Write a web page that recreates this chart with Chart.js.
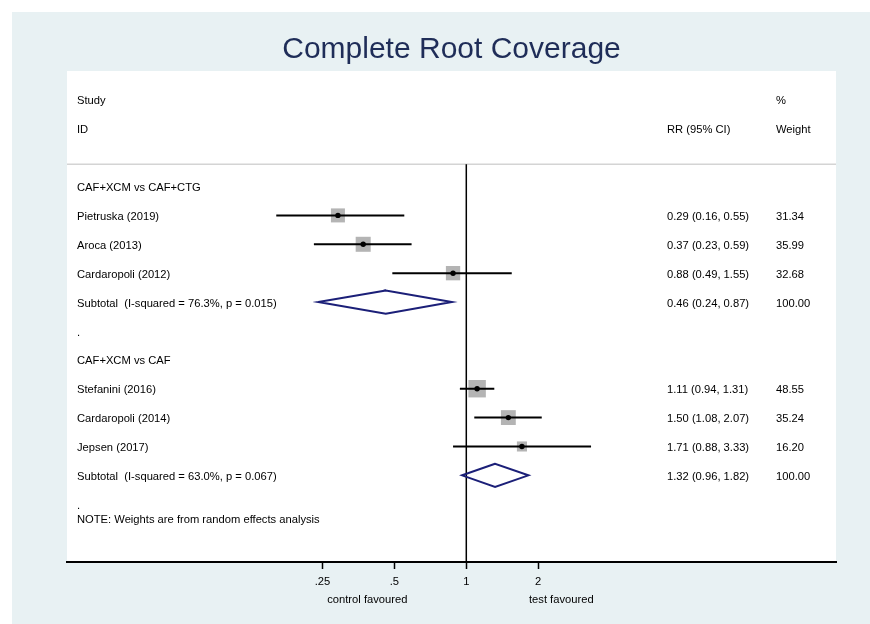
<!DOCTYPE html>
<html lang="en">
<head>
    <meta charset="UTF-8">
    <title>Complete Root Coverage</title>
    <!-- Chart.js -->
    <script src="https://cdn.jsdelivr.net/npm/chart.js@4.4.0/dist/chart.umd.min.js"></script>
    <style>
        html, body {
            margin: 0;
            padding: 0;
            background: #ffffff;
        }
        canvas {
            display: block;
        }
    </style>
</head>
<body>
    <canvas id="forestChart" width="870" height="624"></canvas>

    <script>
        // Data
        const groupLabels = ["CAF+XCM vs CAF+CTG", "CAF+XCM vs CAF"];
        const studyNames = ["Pietruska (2019)", "Aroca (2013)", "Cardaropoli (2012)",
                            "Stefanini (2016)", "Cardaropoli (2014)", "Jepsen (2017)"];
        const studyGroup = [0, 0, 0, 1, 1, 1];
        const studyRR = [0.29, 0.37, 0.88, 1.11, 1.50, 1.71];
        const studyLow = [0.16, 0.23, 0.49, 0.94, 1.08, 0.88];
        const studyHigh = [0.55, 0.59, 1.55, 1.31, 2.07, 3.33];
        const studyWeight = [31.34, 35.99, 32.68, 48.55, 35.24, 16.20];
        const subtotalRR = [0.46, 1.32];
        const subtotalLow = [0.24, 0.96];
        const subtotalHigh = [0.87, 1.82];
        const subtotalHet = ["I-squared = 76.3%, p = 0.015", "I-squared = 63.0%, p = 0.067"];
        const tickValues = [0.25, 0.5, 1, 2];
        const tickLabels = [".25", ".5", "1", "2"];

        const FONT = '"Liberation Sans", Arial, Helvetica, sans-serif';
        Chart.defaults.font.family = FONT;

        // row layout: group header, its studies, subtotal, spacer row
        const groupRow = [], studyRow = [], subtotalRow = [], spacerRow = [];
        let r = 0;
        groupLabels.forEach((g, gi) => {
            groupRow.push(r++);
            studyNames.forEach((n, i) => {
                if (studyGroup[i] === gi) studyRow[i] = r++;
            });
            subtotalRow.push(r++);
            spacerRow.push(r++);
        });
        const noteRow = spacerRow[spacerRow.length - 1] + 0.5;
        const headerRowTop = -3, headerRowBottom = -2, dividerRow = -0.77;
        const diamondHalf = 0.4;

        const datasets = [];

        // weight boxes (square side grows with sqrt of weight)
        datasets.push({
            data: studyRR.map((v, i) => ({ x: v, y: studyRow[i] })),
            pointStyle: "rect",
            pointRadius: studyWeight.map(w => 1.77 * Math.sqrt(w)),
            pointBackgroundColor: "#b4b4b4",
            pointBorderWidth: 0,
            order: 3
        });

        // confidence interval lines
        studyRR.forEach((v, i) => {
            datasets.push({
                data: [{ x: studyLow[i], y: studyRow[i] }, { x: studyHigh[i], y: studyRow[i] }],
                showLine: true,
                borderColor: "#000000",
                borderWidth: 2,
                pointRadius: 0,
                order: 2
            });
        });

        // point estimates
        datasets.push({
            data: studyRR.map((v, i) => ({ x: v, y: studyRow[i] })),
            pointStyle: "circle",
            pointRadius: 2.7,
            pointBackgroundColor: "#000000",
            pointBorderWidth: 0,
            order: 1
        });

        // subtotal diamonds
        subtotalRR.forEach((v, g) => {
            const row = subtotalRow[g];
            datasets.push({
                data: [
                    { x: subtotalLow[g], y: row },
                    { x: v, y: row - diamondHalf },
                    { x: subtotalHigh[g], y: row },
                    { x: v, y: row + diamondHalf },
                    { x: subtotalLow[g], y: row },
                    { x: v, y: row - diamondHalf }
                ],
                showLine: true,
                borderColor: "#1b1f78",
                borderWidth: 2,
                borderJoinStyle: "miter",
                pointRadius: 0,
                order: 2
            });
        });

        const forestDecor = {
            id: "forestDecor",
            beforeDraw(chart) {
                const { ctx, chartArea: a } = chart;
                ctx.save();
                ctx.fillStyle = "#ffffff";
                ctx.fillRect(0, 0, chart.width, chart.height);
                ctx.fillStyle = "#e8f1f3";
                ctx.fillRect(12, 12, chart.width - 12, chart.height - 12);
                ctx.fillStyle = "#ffffff";
                ctx.fillRect(a.left, a.top, a.right - a.left, a.bottom - a.top);
                ctx.restore();
            },
            beforeDatasetsDraw(chart) {
                const { ctx, chartArea: a, scales: { x, y } } = chart;
                const yDiv = y.getPixelForValue(dividerRow);
                ctx.save();
                ctx.strokeStyle = "#d4d4d4";
                ctx.lineWidth = 1.5;
                ctx.beginPath();
                ctx.moveTo(a.left, yDiv);
                ctx.lineTo(a.right, yDiv);
                ctx.stroke();
                // line of no effect
                const x1 = x.getPixelForValue(1);
                ctx.strokeStyle = "#000000";
                ctx.lineWidth = 1.5;
                ctx.beginPath();
                ctx.moveTo(x1, yDiv);
                ctx.lineTo(x1, a.bottom);
                ctx.stroke();
                ctx.restore();
            },
            afterDraw(chart) {
                const { ctx, chartArea: a, scales: { x, y } } = chart;
                const colStudy = a.left + 10, colRR = 667, colW = 776;
                ctx.save();
                ctx.fillStyle = "#000000";
                ctx.font = "11.2px " + FONT;
                ctx.textBaseline = "middle";
                ctx.textAlign = "left";
                const put = (txt, px, row) => ctx.fillText(txt, px, y.getPixelForValue(row) + 1.5);

                put("Study", colStudy, headerRowTop);
                put("ID", colStudy, headerRowBottom);
                put("RR (95% CI)", colRR, headerRowBottom);
                put("%", colW, headerRowTop);
                put("Weight", colW, headerRowBottom);

                groupLabels.forEach((g, gi) => {
                    put(g, colStudy, groupRow[gi]);
                    put("Subtotal  (" + subtotalHet[gi] + ")", colStudy, subtotalRow[gi]);
                    put(subtotalRR[gi].toFixed(2) + " (" + subtotalLow[gi].toFixed(2) + ", " +
                        subtotalHigh[gi].toFixed(2) + ")", colRR, subtotalRow[gi]);
                    put("100.00", colW, subtotalRow[gi]);
                    put(".", colStudy, spacerRow[gi]);
                });
                studyNames.forEach((n, i) => {
                    put(n, colStudy, studyRow[i]);
                    put(studyRR[i].toFixed(2) + " (" + studyLow[i].toFixed(2) + ", " +
                        studyHigh[i].toFixed(2) + ")", colRR, studyRow[i]);
                    put(studyWeight[i].toFixed(2), colW, studyRow[i]);
                });
                put("NOTE: Weights are from random effects analysis", colStudy, noteRow);

                // favoured labels under the axis
                const x1 = x.getPixelForValue(1);
                ctx.textAlign = "center";
                ctx.fillText("control favoured", x1 - 99, 600);
                ctx.fillText("test favoured", x1 + 95, 600);

                // title
                ctx.fillStyle = "#1f2d58";
                ctx.font = "30px " + FONT;
                ctx.textBaseline = "alphabetic";
                ctx.fillText("Complete Root Coverage", (a.left + a.right) / 2, 58);
                ctx.restore();
            }
        };

        new Chart(document.getElementById("forestChart"), {
            type: "scatter",
            data: { datasets: datasets },
            options: {
                responsive: false,
                animation: false,
                devicePixelRatio: 1,
                events: [],
                layout: { padding: { left: 67, right: 34, top: 71, bottom: 0 } },
                plugins: {
                    legend: { display: false },
                    tooltip: { enabled: false },
                    title: { display: false }
                },
                scales: {
                    x: {
                        type: "logarithmic",
                        min: 0.02127,
                        max: 35.34,
                        bounds: "data",
                        afterBuildTicks: axis => {
                            axis.ticks = tickValues.map(v => ({ value: v }));
                        },
                        afterFit: axis => {
                            axis.height = 62;
                        },
                        ticks: {
                            callback: (value, index) => tickLabels[index],
                            color: "#000000",
                            font: { size: 11.2 },
                            padding: 6,
                            autoSkip: false,
                            maxRotation: 0
                        },
                        grid: {
                            display: true,
                            drawOnChartArea: false,
                            drawTicks: true,
                            tickLength: 7,
                            tickWidth: 1.5,
                            tickColor: "#000000"
                        },
                        border: { display: true, color: "#000000", width: 2 }
                    },
                    y: {
                        type: "linear",
                        display: false,
                        reverse: true,
                        min: -4,
                        max: 13
                    }
                }
            },
            plugins: [forestDecor]
        });
    </script>
</body>
</html>
